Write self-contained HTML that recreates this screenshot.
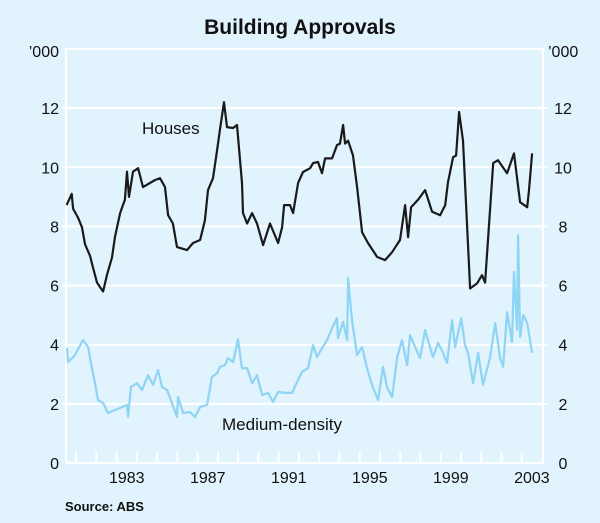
<!DOCTYPE html>
<html><head><meta charset="utf-8"><style>
html,body{margin:0;padding:0;background:#e1f3fd;}
svg{display:block;font-family:"Liberation Sans",Arial,sans-serif;}
</style></head><body>
<svg id="chart" width="600" height="523" viewBox="0 0 600 523">
<rect width="600" height="523" fill="#e1f3fd"/>
<text x="300" y="34" text-anchor="middle" font-size="21" font-weight="bold" fill="#111">Building Approvals</text>
<g id="grid"></g>
<g id="axes"></g>
<g id="series"></g>
<text x="142" y="134" font-size="17" fill="#111">Houses</text>
<text x="222" y="430" font-size="17" fill="#111">Medium-density</text>
<text x="65" y="511" font-size="13" font-weight="bold" fill="#111">Source: ABS</text>
</svg>
<script>
const yTicks=[0,2,4,6,8,10,12];
const yearLabels=[1983,1987,1991,1995,1999,2003];
const housesT=[1980.53,1980.78,1980.85,1981.09,1981.29,1981.44,1981.69,1981.78,1982.03,1982.33,1982.52,1982.77,1982.92,1983.17,1983.41,1983.51,1983.61,1983.81,1984.06,1984.30,1984.90,1985.14,1985.39,1985.54,1985.78,1985.98,1986.48,1986.77,1987.12,1987.36,1987.51,1987.76,1987.96,1988.10,1988.30,1988.45,1988.75,1988.94,1989.19,1989.24,1989.44,1989.69,1989.93,1990.23,1990.57,1990.97,1991.17,1991.27,1991.56,1991.71,1991.96,1992.20,1992.55,1992.70,1992.94,1993.14,1993.29,1993.64,1993.88,1994.03,1994.18,1994.28,1994.43,1994.67,1994.87,1995.12,1995.41,1995.86,1996.25,1996.60,1996.99,1997.24,1997.39,1997.54,1997.88,1998.23,1998.57,1998.97,1999.22,1999.36,1999.61,1999.76,1999.91,2000.10,2000.45,2000.80,2001.04,2001.19,2001.59,2001.83,2002.28,2002.62,2002.77,2002.92,2003.27,2003.36,2003.51];
const housesV=[8.72,9.1,8.6,8.3,7.97,7.4,7.0,6.75,6.1,5.8,6.35,6.95,7.65,8.45,8.9,9.85,9.0,9.85,9.97,9.33,9.57,9.63,9.33,8.38,8.1,7.3,7.2,7.44,7.54,8.2,9.23,9.63,10.58,11.26,12.2,11.36,11.33,11.43,9.47,8.45,8.1,8.45,8.1,7.37,8.1,7.44,7.97,8.72,8.72,8.45,9.47,9.84,9.97,10.14,10.18,9.8,10.3,10.3,10.75,10.8,11.43,10.8,10.9,10.4,9.33,7.8,7.44,6.97,6.86,7.13,7.54,8.72,7.64,8.65,8.9,9.23,8.5,8.38,8.72,9.5,10.34,10.4,11.87,10.9,5.9,6.08,6.35,6.1,10.14,10.24,9.8,10.47,9.63,8.82,8.65,9.23,10.47];
const mediumT=[1980.55,1980.60,1980.94,1981.34,1981.59,1981.78,1981.93,1982.08,1982.33,1982.57,1982.92,1983.27,1983.51,1983.56,1983.71,1984.01,1984.25,1984.55,1984.80,1985.04,1985.24,1985.49,1985.73,1985.98,1986.03,1986.28,1986.62,1986.87,1987.12,1987.46,1987.71,1987.96,1988.10,1988.35,1988.50,1988.75,1988.99,1989.19,1989.44,1989.69,1989.93,1990.18,1990.48,1990.72,1990.97,1991.31,1991.66,1991.91,1992.15,1992.45,1992.70,1992.89,1993.14,1993.39,1993.64,1993.88,1993.93,1994.18,1994.38,1994.43,1994.62,1994.87,1995.12,1995.36,1995.61,1995.91,1996.15,1996.35,1996.60,1996.85,1997.09,1997.34,1997.49,1997.73,1997.98,1998.23,1998.48,1998.62,1998.87,1999.12,1999.31,1999.56,1999.71,2000.01,2000.20,2000.35,2000.60,2000.85,2001.09,2001.44,2001.69,2001.93,2002.08,2002.28,2002.52,2002.62,2002.77,2002.82,2002.92,2003.07,2003.27,2003.51];
const mediumV=[3.89,3.41,3.65,4.16,3.92,3.21,2.7,2.13,2.03,1.69,1.79,1.89,1.96,1.56,2.57,2.7,2.47,2.97,2.64,3.14,2.57,2.47,2.03,1.56,2.23,1.69,1.72,1.56,1.89,1.96,2.91,3.04,3.25,3.31,3.55,3.41,4.19,3.21,3.21,2.7,2.97,2.3,2.37,2.06,2.4,2.37,2.37,2.74,3.08,3.21,3.99,3.58,3.89,4.16,4.56,4.9,4.23,4.77,4.16,6.25,4.83,3.65,3.92,3.21,2.64,2.13,3.25,2.57,2.23,3.58,4.16,3.31,4.33,3.92,3.55,4.5,3.89,3.58,4.06,3.72,3.38,4.83,3.92,4.9,3.99,3.72,2.7,3.72,2.64,3.58,4.73,3.55,3.25,5.1,4.09,6.46,4.5,7.7,4.26,5.0,4.73,3.72];

const NS='http://www.w3.org/2000/svg';
const L=66,R=543,T=49,B=463,T0=1980.5,T1=2004.05;
const xs=t=>L+(t-T0)*(R-L)/(T1-T0);
const ys=v=>B-v*(B-T)/14;
function mk(tag,attrs,parent){const e=document.createElementNS(NS,tag);for(const k in attrs)e.setAttribute(k,attrs[k]);parent.appendChild(e);return e;}
const grid=document.getElementById('grid'),axes=document.getElementById('axes'),series=document.getElementById('series');
let fr=mk('path',{d:`M${L},${B}V${T}H${R}V${B}H${L}`,fill:'none',stroke:'#fff','stroke-width':2},grid);


yTicks.forEach(v=>{
  if(v>0){const g=mk('line',{x1:L-4,x2:R+4,y1:ys(v),y2:ys(v),stroke:'#fff','stroke-width':2},grid);
  
  }
  const a=mk('text',{x:L-7,y:ys(v)+6,'text-anchor':'end','font-size':16,fill:'#111'},axes);a.textContent=v;
  
  
  const b=mk('text',{x:563,y:ys(v)+6,'text-anchor':'middle','font-size':16,fill:'#111'},axes);b.textContent=v;
  
  
});
let u1=mk('text',{x:L-7,y:T+8,'text-anchor':'end','font-size':16,fill:'#111'},axes);u1.textContent='\u2019000';


let u2=mk('text',{x:548,y:T+8,'font-size':16,fill:'#111'},axes);u2.textContent='\u2019000';


for(let y=1981;y<=2003;y++){
  const t=mk('line',{x1:xs(y),x2:xs(y),y1:B,y2:B-11,stroke:'#fff','stroke-width':2},grid);
  
  
}
yearLabels.forEach(y=>{
  const t=mk('text',{x:xs(y+0.5),y:B+20,'text-anchor':'middle','font-size':16,fill:'#111'},axes);t.textContent=y;
  
  
});
function line(T,V,color,name){
  const d=T.map((t,i)=>(i?'L':'M')+xs(t).toFixed(1)+','+ys(V[i]).toFixed(1)).join('');
  const p=mk('path',{d,fill:'none',stroke:color,'stroke-width':2.2,'stroke-linejoin':'round'},series);
  
  
}
line(mediumT,mediumV,'#8dd4f5','medium-density-line');
line(housesT,housesV,'#1a1a1a','houses-line');
</script>
</body></html>
